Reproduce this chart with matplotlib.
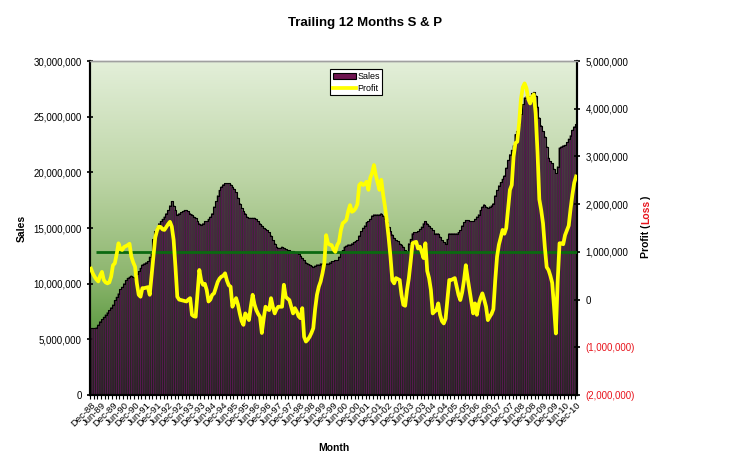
import matplotlib
matplotlib.use("Agg")
import matplotlib.pyplot as plt
import numpy as np
import pandas as pd
from matplotlib.colors import LinearSegmentedColormap
from matplotlib.patches import Patch
from matplotlib.lines import Line2D
from matplotlib.ticker import FixedLocator, FuncFormatter

plt.rcParams['font.family'] = ['Liberation Sans', 'DejaVu Sans']

# ---------------- data ----------------
months = pd.date_range('1988-12-01', '2010-12-01', freq='MS')
month_labels = [d.strftime('%b-%y') for d in months]

# trailing 12-month sales (millions)
sales_m = [
    6.0, 6.0, 6.0, 6.05, 6.3, 6.6, 6.8, 7.0, 7.2, 7.4, 7.6, 7.85,
    8.1, 8.5, 8.8, 9.1, 9.5, 9.7, 10.0, 10.3, 10.5, 10.6, 10.7, 10.6,
    10.5, 10.9, 11.1, 11.4, 11.7, 11.8, 11.9, 12.0, 12.4, 12.8, 14.0, 14.7,
    15.0, 15.4, 15.6, 15.8, 16.0, 16.3, 16.6, 17.0, 17.4, 17.0, 16.6, 16.2,
    16.3, 16.4, 16.5, 16.6, 16.6, 16.5, 16.3, 16.2, 16.0, 15.9, 15.6, 15.4,
    15.3, 15.4, 15.6, 15.6, 15.8, 16.0, 16.3, 16.9, 17.4, 17.9, 18.4, 18.7,
    18.9, 19.0, 19.0, 19.0, 18.9, 18.7, 18.5, 18.2, 17.7, 17.2, 16.8, 16.5,
    16.3, 16.0, 15.9, 15.9, 15.9, 15.9, 15.8, 15.6, 15.4, 15.2, 15.0, 14.9,
    14.8, 14.6, 14.3, 13.9, 13.6, 13.3, 13.2, 13.2, 13.3, 13.2, 13.1, 13.0,
    13.0, 12.9, 12.9, 12.8, 12.8, 12.7, 12.5, 12.3, 12.1, 11.9, 11.8, 11.7,
    11.6, 11.5, 11.6, 11.7, 11.7, 11.8, 11.8, 11.8, 11.8, 11.8, 11.9, 12.0,
    12.0, 12.1, 12.1, 12.4, 12.8, 13.0, 13.3, 13.4, 13.5, 13.5, 13.6, 13.7,
    13.8, 13.9, 14.3, 14.7, 15.0, 15.2, 15.5, 15.6, 15.8, 16.1, 16.2, 16.2,
    16.2, 16.2, 16.3, 16.1, 15.8, 15.5, 15.1, 14.7, 14.4, 14.1, 13.9, 13.8,
    13.6, 13.5, 13.3, 13.0, 12.8, 13.6, 14.0, 14.5, 14.6, 14.6, 14.7, 14.9,
    15.1, 15.4, 15.6, 15.4, 15.2, 15.0, 14.8, 14.5, 14.5, 14.5, 14.2, 13.9,
    13.7, 13.6, 14.0, 14.5, 14.5, 14.5, 14.5, 14.5, 14.6, 14.8, 15.2, 15.5,
    15.7, 15.7, 15.6, 15.6, 15.6, 15.8, 16.0, 16.2, 16.6, 16.9, 17.1, 16.9,
    16.8, 16.9, 17.0, 17.2, 17.9, 18.4, 18.8, 19.1, 19.4, 19.7, 20.4, 21.1,
    21.6, 22.0, 22.4, 23.4, 23.7, 24.3, 25.2, 26.1, 26.7, 26.8, 26.6, 26.8,
    27.1, 27.2, 26.9, 25.9, 24.9, 24.2, 23.7, 23.2, 22.3, 21.3, 21.0, 20.8,
    20.3, 19.9, 20.5, 22.2, 22.3, 22.4, 22.45, 22.7, 23.0, 23.3, 23.8, 24.1,
    24.3,
]

# trailing 12-month profit (millions)
profit_m = [
    0.65, 0.55, 0.48, 0.42, 0.38, 0.5, 0.58, 0.41, 0.36, 0.34, 0.36, 0.48,
    0.72, 0.76, 0.95, 1.18, 1.06, 1.04, 1.1, 1.12, 1.14, 1.17, 0.9, 0.78,
    0.69, 0.34, 0.1, 0.06, 0.24, 0.24, 0.25, 0.26, 0.1, 0.5, 0.9, 1.3,
    1.45, 1.53, 1.52, 1.47, 1.46, 1.52, 1.58, 1.63, 1.53, 1.25, 0.69, 0.06,
    0.0, -0.01, -0.02, -0.03, -0.04, 0.0, 0.03, -0.32, -0.35, -0.36, 0.13, 0.62,
    0.4, 0.31, 0.33, 0.2, -0.04, 0.0, 0.1, 0.13, 0.25, 0.37, 0.44, 0.48,
    0.5, 0.55, 0.4, 0.3, 0.27, -0.15, -0.05, 0.03, -0.1, -0.29, -0.45, -0.53,
    -0.29, -0.35, -0.43, -0.15, 0.1, -0.1, -0.22, -0.3, -0.36, -0.7, -0.4, -0.15,
    -0.2, -0.22, 0.03, -0.15, -0.29, -0.2, -0.15, -0.15, -0.15, 0.31, 0.06, 0.02,
    -0.01, -0.15, -0.29, -0.18, -0.25, -0.35, -0.39, -0.18, -0.78, -0.88, -0.84, -0.78,
    -0.7, -0.6, -0.2, 0.1, 0.27, 0.38, 0.55, 0.76, 1.35, 1.18, 1.15, 1.14,
    1.05, 1.0, 1.14, 1.21, 1.45, 1.6, 1.63, 1.67, 1.85, 1.98, 1.84, 1.86,
    1.91, 2.0, 2.4, 2.44, 2.4, 2.42, 2.47, 2.3, 2.55, 2.65, 2.82, 2.61,
    2.45, 2.3, 2.51, 2.2, 1.95, 1.65, 1.3, 0.9, 0.4, 0.34, 0.45, 0.43,
    0.41, 0.1, -0.11, -0.13, 0.2, 0.45, 0.8, 1.18, 1.2, 1.21, 1.07, 1.11,
    1.0, 0.87, 1.18, 0.6, 0.45, 0.2, -0.29, -0.25, -0.22, -0.08, -0.32, -0.45,
    -0.5, -0.4, 0.0, 0.41, 0.41, 0.43, 0.45, 0.27, 0.1, -0.01, 0.15, 0.4,
    0.72, 0.45, 0.2, -0.05, -0.29, -0.08, -0.32, -0.1, 0.03, 0.13, 0.0, -0.15,
    -0.43, -0.36, -0.3, -0.2, 0.4, 0.9, 1.15, 1.3, 1.46, 1.38, 1.5, 1.9,
    2.3, 2.4, 3.0, 3.28, 3.31, 3.7, 4.2, 4.45, 4.53, 4.43, 4.2, 4.11,
    4.25, 4.3, 3.9, 3.1, 2.1, 1.88, 1.6, 1.1, 0.68, 0.62, 0.5, 0.35,
    -0.15, -0.71, 0.4, 1.18, 1.18, 1.16, 1.35, 1.45, 1.55, 1.9, 2.2, 2.45,
    2.58,
]

reference_profit = 1_000_000
reference_start = 3

sales_ticks = [0, 5e6, 10e6, 15e6, 20e6, 25e6, 30e6]
profit_ticks = [-2e6, -1e6, 0, 1e6, 2e6, 3e6, 4e6, 5e6]
profit_tick_labels = ['(2,000,000)', '(1,000,000)', '0', '1,000,000',
                      '2,000,000', '3,000,000', '4,000,000', '5,000,000']

sales = np.array(sales_m) * 1e6
profit = np.array(profit_m) * 1e6
n = len(sales)
x = np.arange(n)

# ---------------- figure ----------------
fig = plt.figure(figsize=(7.32, 4.67), dpi=100)
ax = fig.add_axes([90/732, 72/467, 487/732, 334/467])
ax2 = ax.twinx()

# gradient background (light at top, darker green at bottom)
cmap = LinearSegmentedColormap.from_list(
    'bg', [(0.0, '#e3efd9'), (0.35, '#bdd5a6'), (0.65, '#8cb56d'),
           (0.82, '#5c9a42'), (1.0, '#2f6e22')])
grad = np.linspace(0, 1, 256).reshape(-1, 1)
ax.imshow(grad, aspect='auto', cmap=cmap, origin='upper',
          extent=(-0.5, n - 0.5, 0, 30e6), zorder=0, interpolation='bicubic')

bars = ax.bar(x, sales, width=0.72, color='#641c5c', edgecolor='#101010',
              linewidth=0.35, zorder=2)
for b in bars:
    b.set_snap(False)

# dark top outline of bars
ax.step(x, sales, where='mid', color='black', linewidth=0.8, zorder=2.5)

ax.set_xlim(-0.5, n - 0.5)
ax.set_ylim(0, 30e6)
ax2.set_ylim(-2e6, 5e6)

ax2.hlines(reference_profit, reference_start, n - 0.5, color='#0b6a10',
           linewidth=2.0, zorder=3)
ax2.plot(x, profit, color='#ffff00', linewidth=2.7, zorder=4,
         solid_joinstyle='round')

# axes formatting
ax.yaxis.set_major_locator(FixedLocator(sales_ticks))
ax.yaxis.set_major_formatter(FuncFormatter(lambda v, p: f'{int(v):,}'))
ax2.yaxis.set_major_locator(FixedLocator(profit_ticks))
ax2.set_yticklabels(profit_tick_labels)
for lbl, v in zip(ax2.get_yticklabels(), profit_ticks):
    lbl.set_color('#e8141c' if v < 0 else 'black')

ax.set_xticks(x[::6])
ax.set_xticklabels(month_labels[::6], rotation=45, ha='right',
                   rotation_mode='anchor', fontsize=6.8)
ax.set_xticks(np.arange(-0.5, n, 2), minor=True)
ax.tick_params(axis='x', which='major', length=0, pad=4)
ax.tick_params(axis='x', which='minor', length=3, width=0.8, direction='out')
ax.tick_params(axis='y', labelsize=7, length=5, width=1.2, direction='inout')
ax2.tick_params(axis='y', labelsize=7, length=5, width=1.2, direction='inout')

for a in (ax, ax2):
    a.spines['left'].set_linewidth(1.5)
    a.spines['right'].set_linewidth(1.5)
    a.spines['bottom'].set_linewidth(1.5)
    a.spines['top'].set_color('#a0a0a0')
    a.spines['top'].set_linewidth(1.0)

ax.set_ylabel('Sales', fontsize=7.5, fontweight='bold', labelpad=5)
ax.set_xlabel('Month', fontsize=7.5, fontweight='bold', labelpad=10)

fig.text(0.4986, 0.95, 'Trailing 12 Months S & P', ha='center', va='center',
         fontsize=9.5, fontweight='bold')

# right label with red "Loss"
t1 = fig.text(646/732, (467-258)/467, 'Profit (', rotation=90, ha='center',
              va='bottom', fontsize=7.5, fontweight='bold')
a1 = ax.annotate('Loss', xy=(0.5, 1), xycoords=t1, rotation=90, ha='center',
                 va='bottom', fontsize=7.5, fontweight='bold', color='#e8141c',
                 annotation_clip=False)
a2 = ax.annotate(')', xy=(0.5, 1), xycoords=a1, rotation=90, ha='center',
                 va='bottom', fontsize=7.5, fontweight='bold',
                 annotation_clip=False)

handles = [Patch(facecolor='#6e1450', edgecolor='black', linewidth=0.8),
           Line2D([0], [0], color='#ffff00', linewidth=2.7)]
leg = ax2.legend(handles, ['Sales', 'Profit'], loc='upper left',
                 bbox_to_anchor=(0.493, 0.975), fontsize=6.5, frameon=True,
                 fancybox=False, edgecolor='black', framealpha=1,
                 handlelength=2.6, handletextpad=0.1, borderpad=0.3,
                 labelspacing=0.3, borderaxespad=0)
leg.get_frame().set_linewidth(0.8)
leg.set_zorder(10)

fig.savefig('out.png', dpi=100)
